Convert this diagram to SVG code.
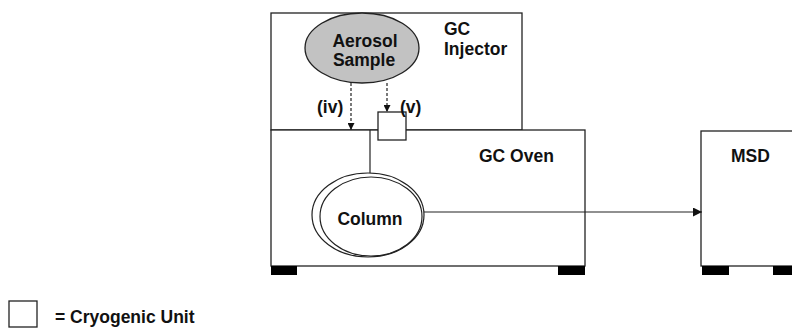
<svg xmlns="http://www.w3.org/2000/svg" width="792" height="329" viewBox="0 0 792 329">
<style>
.box{fill:#fff;stroke:#222;stroke-width:1.3}
.foot{fill:#000}
.t{font-family:"Liberation Sans",Arial,sans-serif;font-weight:bold;font-size:17.5px;fill:#111}
.ln{stroke:#222;stroke-width:1.2;fill:none}
.dash{stroke:#222;stroke-width:1.2;fill:none;stroke-dasharray:3 2}
</style>
<defs>
<marker id="ah" viewBox="0 0 10 10" refX="10" refY="5" markerWidth="7" markerHeight="7" markerUnits="userSpaceOnUse" orient="auto">
<path d="M0,0 L10,5 L0,10 z" fill="#111"/>
</marker>
<marker id="ah2" viewBox="0 0 10 10" refX="10" refY="5" markerWidth="9" markerHeight="9" markerUnits="userSpaceOnUse" orient="auto">
<path d="M0,0 L10,5 L0,10 z" fill="#111"/>
</marker>
</defs>
<g id="gc-injector">
<rect class="box" x="271" y="13" width="251" height="117"/>
<text class="t" x="444" y="35">GC</text>
<text class="t" x="444" y="55">Injector</text>
</g>
<g id="gc-oven">
<rect class="box" x="271" y="130" width="314" height="136"/>
<rect class="foot" x="271" y="266" width="26" height="9"/>
<rect class="foot" x="558" y="266" width="27" height="9"/>
<text class="t" x="479" y="162">GC Oven</text>
</g>
<g id="msd">
<rect class="box" x="701" y="131" width="110" height="135"/>
<rect class="foot" x="702" y="266" width="27" height="9"/>
<rect class="foot" x="773" y="266" width="27" height="9"/>
<text class="t" x="731" y="162">MSD</text>
</g>
<g id="aerosol-sample">
<ellipse cx="362" cy="48" rx="57" ry="35" fill="#c2c2c2" stroke="#222" stroke-width="1.3"/>
<text class="t" x="365" y="47" text-anchor="middle">Aerosol</text>
<text class="t" x="364" y="66" text-anchor="middle">Sample</text>
</g>
<g id="cryogenic-unit">
<rect class="box" x="378" y="112" width="28" height="28"/>
</g>
<g id="column">
<ellipse cx="368" cy="215" rx="56" ry="42" fill="#fff" stroke="#222" stroke-width="1.2"/>
<ellipse cx="371" cy="216.5" rx="51" ry="39.5" fill="none" stroke="#222" stroke-width="1.2"/>
<text class="t" x="370" y="225" text-anchor="middle">Column</text>
</g>
<g id="connectors">
<line class="ln" x1="370" y1="130" x2="370" y2="173"/>
<line class="dash" x1="351" y1="83" x2="351" y2="130" marker-end="url(#ah)"/>
<line class="dash" x1="387" y1="83" x2="387" y2="112" marker-end="url(#ah)"/>
<line class="ln" x1="424" y1="212" x2="702" y2="212" marker-end="url(#ah2)"/>
<text class="t" x="317" y="113">(iv)</text>
<text class="t" x="400" y="113">(v)</text>
</g>
<g id="legend">
<rect class="box" x="9" y="301" width="28" height="26"/>
<text class="t" x="55" y="323">= Cryogenic Unit</text>
</g>
</svg>
